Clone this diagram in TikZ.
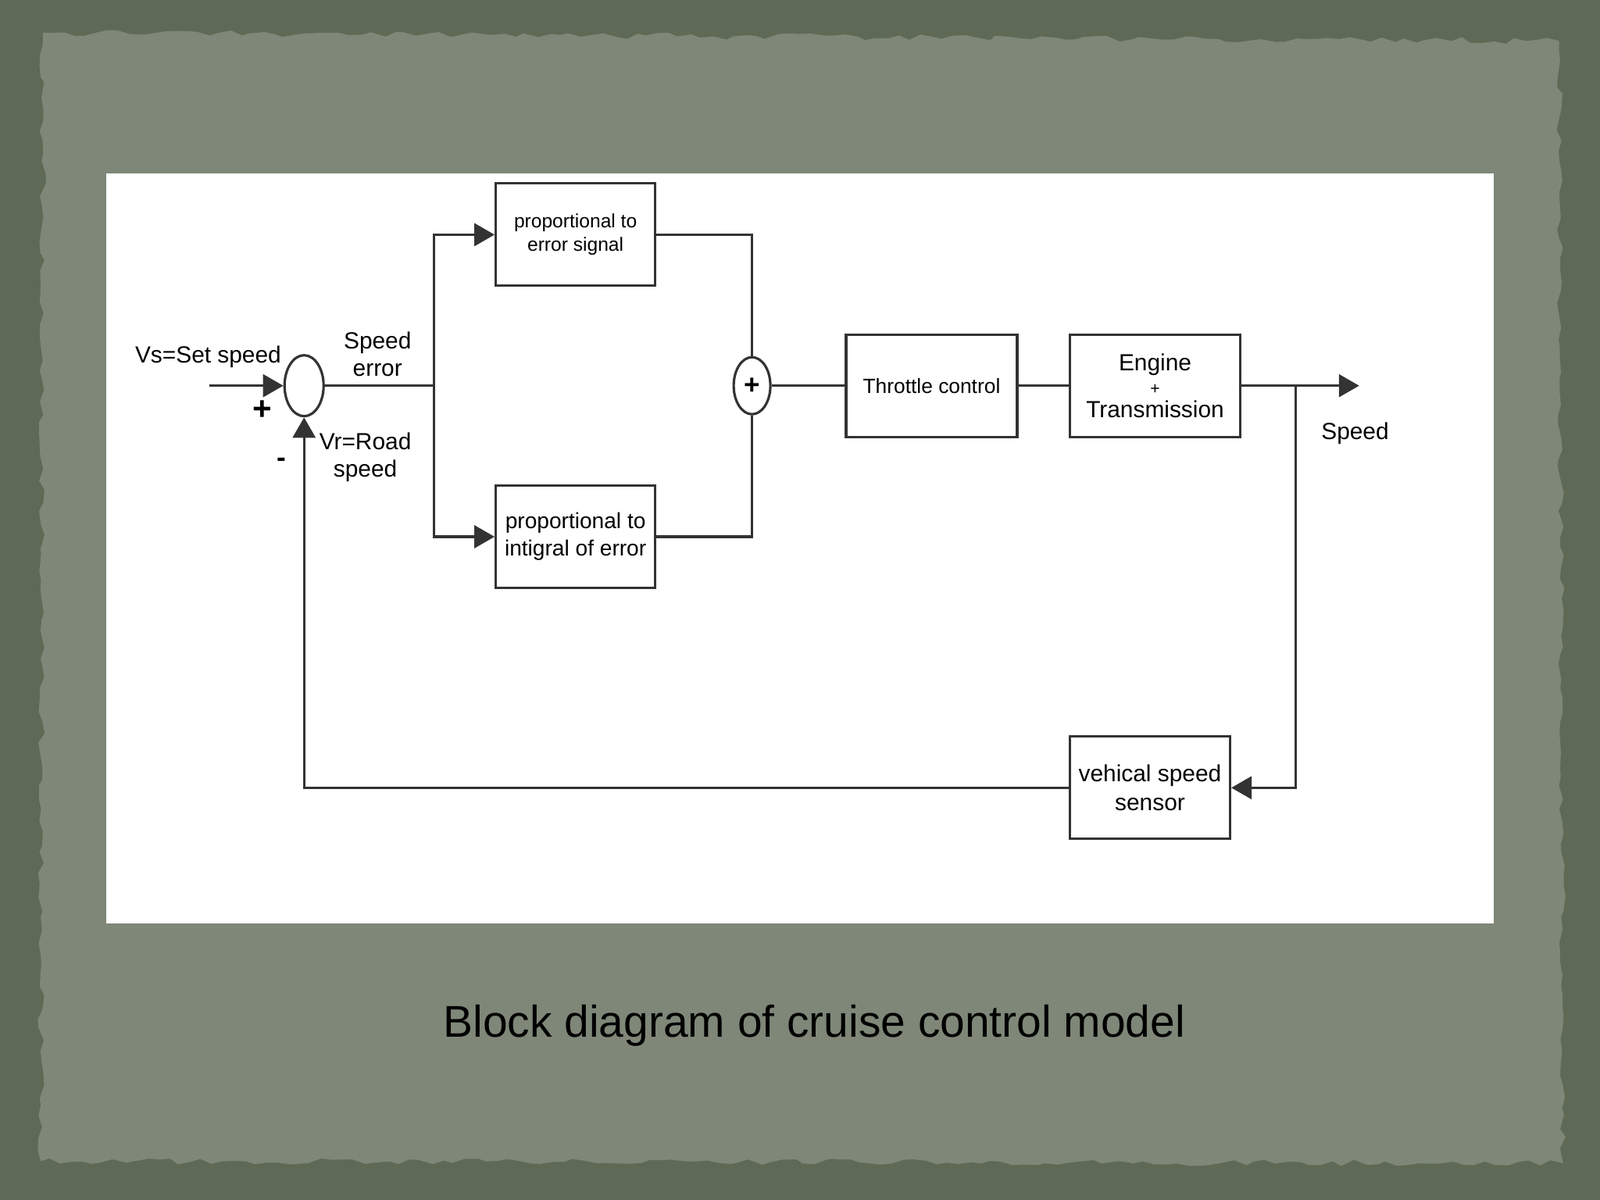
\documentclass[tikz,border=0pt]{standalone}
\usepackage{fontspec}
\setmainfont{Liberation Sans}
\usetikzlibrary{arrows.meta,shapes,positioning,decorations.pathmorphing}
\definecolor{frame}{HTML}{5E6A55}
\definecolor{panel}{HTML}{7E8778}
\tikzset{
	block/.style={draw=black!80, line width=0.9pt, minimum height=1.31cm, inner sep=1pt, align=center, font=\fontsize{8.5}{10.5}\selectfont},
	summer/.style={draw=black!80, line width=0.9pt, ellipse, inner sep=0pt},
	signal/.style={line width=0.9pt, draw=black!80},
	sig/.style={signal, -{Triangle[length=0.26cm,width=0.29cm]}},
	lab/.style={align=center, font=\fontsize{8.5}{10}\selectfont},
}
\begin{document}
\begin{tikzpicture}[x=0.013061cm, y=-0.013061cm]
\useasboundingbox (0,0) rectangle (1568,1176);
\fill[frame] (0,0) rectangle (1568,1176);
\fill[panel, decorate, decoration={random steps, segment length=4pt, amplitude=1.2pt}]
	(42,32) -- (1528,40) -- (1532,1140) -- (40,1138) -- cycle;
\fill[white] (104,170) rectangle (1464,905);
% blocks
\node[summer, minimum width=0.50cm, minimum height=0.78cm] (sum1) at (298,378) {};
\node[summer, minimum width=0.47cm, minimum height=0.73cm] (sum2) at (737,378) {\textbf{+}};
\node[block, minimum width=2.04cm, font=\fontsize{7}{8.5}\selectfont] (prop) at (564,230) {proportional to\\error signal};
\node[block, minimum width=2.04cm, font=\fontsize{8}{10}\selectfont] (integ) at (564,526) {proportional to\\intigral of error};
\node[block, minimum width=2.19cm, font=\fontsize{7.5}{9}\selectfont] (throttle) at (913,378) {Throttle control};
\node[block, minimum width=2.18cm] (engine) at (1132,378) {Engine\\[-2pt]{\fontsize{6}{7}\selectfont+}\\[-2pt]Transmission};
\node[block, minimum width=2.05cm] (sensor) at (1127,772) {vehical speed\\sensor};
% junctions
\coordinate (vs) at (205,378);
\coordinate (split) at (425,378);
\coordinate (out) at (1332,378);
\coordinate (tap) at (1270,378);
% signals
\draw[sig] (vs) -- (sum1.west);
\draw[signal] (sum1.east) -- (split);
\draw[sig] (split) |- (prop.west);
\draw[sig] (split) |- (integ.west);
\draw[signal] (prop.east) -| (sum2.north);
\draw[signal] (integ.east) -| (sum2.south);
\draw[signal] (sum2.east) -- (throttle.west);
\draw[signal] (throttle.east) -- (engine.west);
\draw[sig] (engine.east) -- (out);
\draw[sig] (tap) |- (sensor.east);
\draw[sig] (sensor.west) -| (sum1.south);
% labels
\node[lab] at (204,350) {Vs=Set speed};
\node[font=\bfseries\large] at (257,402) {+};
\node[font=\bfseries] at (276,453) {-};
\node[lab] at (370,347) {Speed\\error};
\node[lab] at (358,448) {Vr=Road\\speed};
\node[lab] at (1328,425) {Speed};
\node[font=\fontsize{16.2}{19}\selectfont] at (798,1005) {Block diagram of cruise control model};
\end{tikzpicture}
\end{document}
